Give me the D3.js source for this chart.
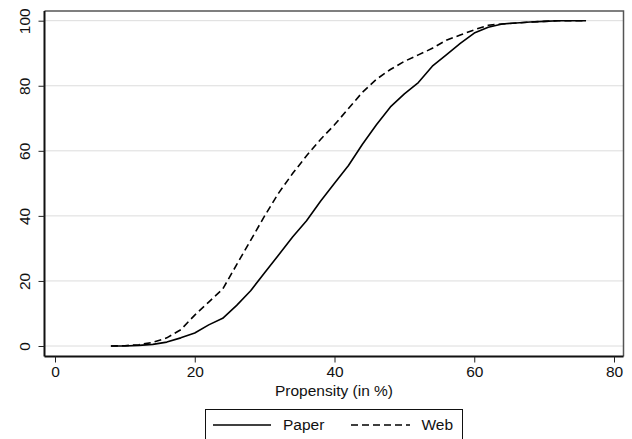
<!DOCTYPE html>
<html>
<head>
<meta charset="utf-8">
<script src="https://cdn.jsdelivr.net/npm/d3@7"></script>
<style>
  html, body { margin: 0; padding: 0; background: #fff; }
  svg { display: block; font-family: "Liberation Sans", Arial, Helvetica, sans-serif; }
</style>
</head>
<body>
<svg id="chart" width="632" height="439"></svg>
<script>
const propensity = [8,10,12,14,16,18,20,22,24,26,28,30,32,34,36,38,40,42,44,46,48,50,52,54,56,58,60,62,64,66,68,70,72,74,76];
const paper = [0,0,0.2,0.5,1.2,2.5,4,6.5,8.5,12.5,17,22.5,28,33.5,38.5,44.5,50,55.5,62,68,73.5,77.5,81,86,89.5,93,96.2,98,99,99.3,99.6,99.8,100,100,100];
const web = [0,0.1,0.4,1.1,2.5,5,9.5,13.5,17.5,25,32.5,40,47,53,58.5,63.5,68,73,78,82,85,87.5,89.5,91.5,94,95.6,97.2,98.6,99,99.3,99.6,99.8,100,100,100];
const xTicks = [0,20,40,60,80];
const yTicks = [0,20,40,60,80,100];
const seriesNames = ["Paper","Web"];

const svg = d3.select("#chart");
const frame = {left: 44.5, right: 623.5, top: 11, bottom: 356.5};
const x = d3.scaleLinear().domain([0,80]).range([55,614]);
const y = d3.scaleLinear().domain([0,100]).range([346,20.7]);
const fs = 15.5;

// gridlines
svg.append("g").selectAll("line").data(yTicks).join("line")
  .attr("x1", frame.left).attr("x2", frame.right)
  .attr("y1", d => y(d)).attr("y2", d => y(d))
  .attr("stroke", "#dcdcdc").attr("stroke-width", 1);

// frame top/right
svg.append("path")
  .attr("d", `M${frame.left},${frame.top}H${frame.right}V${frame.bottom}`)
  .attr("fill","none").attr("stroke","#555").attr("stroke-width",1.5);

// x axis
const xAxis = d3.axisBottom(x).tickValues(xTicks).tickSize(6).tickPadding(3).tickFormat(d3.format("d"));
const gx = svg.append("g").attr("transform", `translate(0,${frame.bottom})`).call(xAxis);
gx.select(".domain").attr("d", `M${frame.left},0H${frame.right}`).attr("stroke","#111").attr("stroke-width",2);
gx.selectAll(".tick line").attr("stroke","#222").attr("stroke-width",1);
gx.selectAll(".tick text").attr("font-size", fs).attr("fill","#111").attr("font-family","Liberation Sans, Arial, sans-serif");

// y axis
const yAxis = d3.axisLeft(y).tickValues(yTicks).tickSize(6).tickPadding(0).tickFormat(d3.format("d"));
const gy = svg.append("g").attr("transform", `translate(${frame.left},0)`).call(yAxis);
gy.select(".domain").attr("d", `M0,${frame.top}V${frame.bottom}`).attr("stroke","#111").attr("stroke-width",2);
gy.selectAll(".tick line").attr("stroke","#222").attr("stroke-width",1);
gy.selectAll(".tick text")
  .attr("font-size", fs).attr("fill","#111").attr("font-family","Liberation Sans, Arial, sans-serif")
  .attr("x", null).attr("dy", null)
  .attr("text-anchor","middle")
  .attr("transform", "translate(-14.5,0) rotate(-90)");

// axis title
svg.append("text").attr("x", (frame.left+frame.right)/2).attr("y", 396)
  .attr("text-anchor","middle").attr("font-size", fs).attr("fill","#111")
  .text("Propensity (in %)");

// lines
const line = vals => d3.line().x((d,i) => x(propensity[i])).y(d => y(d))(vals);
svg.append("path").attr("d", line(paper)).attr("fill","none").attr("stroke","#000").attr("stroke-width",1.6).attr("stroke-linejoin","round");
svg.append("path").attr("d", line(web)).attr("fill","none").attr("stroke","#000").attr("stroke-width",1.6).attr("stroke-dasharray","7,4");

// legend
const lg = svg.append("g");
lg.append("rect").attr("x",205.5).attr("y",409.5).attr("width",257).attr("height",40)
  .attr("fill","#fff").attr("stroke","#111").attr("stroke-width",1);
lg.append("line").attr("x1",213).attr("x2",271).attr("y1",425).attr("y2",425).attr("stroke","#000").attr("stroke-width",1.6);
lg.append("text").attr("x",283).attr("y",430).attr("font-size",fs).attr("fill","#111").text(seriesNames[0]);
lg.append("line").attr("x1",351).attr("x2",410).attr("y1",425).attr("y2",425).attr("stroke","#000").attr("stroke-width",1.6).attr("stroke-dasharray","7,4");
lg.append("text").attr("x",421.5).attr("y",430).attr("font-size",fs).attr("fill","#111").text(seriesNames[1]);
</script>
</body>
</html>
